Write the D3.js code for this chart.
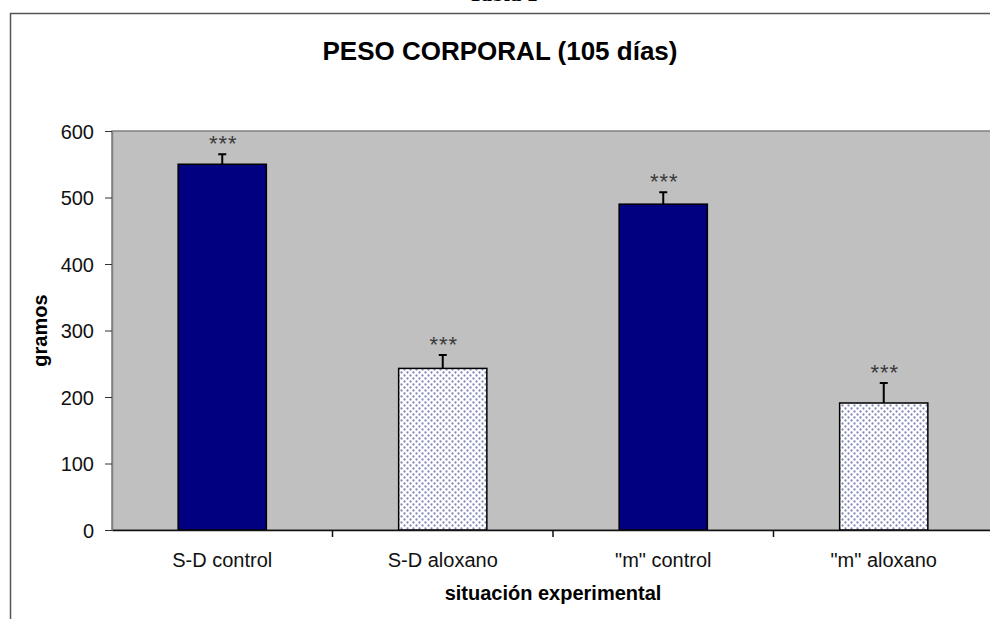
<!DOCTYPE html>
<html>
<head>
<meta charset="utf-8">
<script src="https://cdn.jsdelivr.net/npm/d3@7"></script>
<style>
  body { margin: 0; background: #fff; }
  text { font-family: "Liberation Sans", Arial, sans-serif; }
</style>
</head>
<body>
<div id="chart"></div>
<script>
var categories = ['S-D control', 'S-D aloxano', '"m" control', '"m" aloxano']
var pesos = [550, 243, 490, 191]
var errores = [15, 20, 18, 30]
var patron = ['solid', 'dots', 'solid', 'dots']
var signif = ['***', '***', '***', '***']
var yTicks = [0, 100, 200, 300, 400, 500, 600]

var width = 990,
    height = 619,
    margin = {top: 131, right: -4, bottom: 89, left: 112}

var svg = d3.select("#chart")
  .append("svg")
    .attr("width", width)
    .attr("height", height)

// dotted fill for the alloxan bars
var defs = svg.append("defs")
var pat = defs.append("pattern")
    .attr("id", "dots")
    .attr("patternUnits", "userSpaceOnUse")
    .attr("width", 6)
    .attr("height", 6)
pat.append("rect").attr("width", 6).attr("height", 6).attr("fill", "#ffffff")
pat.append("circle").attr("cx", 1.5).attr("cy", 1.5).attr("r", 1.15).attr("fill", "#8288b8")
pat.append("circle").attr("cx", 4.5).attr("cy", 4.5).attr("r", 1.15).attr("fill", "#8288b8")

// caption cut off at the top edge, as in the scan, and outer frame
svg.append("text")
  .attr("x", 503)
  .attr("y", 1)
  .attr("text-anchor", "middle")
  .style("font-family", "Liberation Serif, serif")
  .style("font-weight", "bold")
  .style("font-size", "22px")
  .text("Tabla 1")

svg.append("rect")
  .attr("x", 10.5)
  .attr("y", 13.5)
  .attr("width", 1000)
  .attr("height", 700)
  .attr("fill", "none")
  .attr("stroke", "#555")
  .attr("stroke-width", 1.5)

svg.append("text")
  .attr("x", 500)
  .attr("y", 60)
  .attr("text-anchor", "middle")
  .style("font-weight", "bold")
  .style("font-size", "26px")
  .text("PESO CORPORAL (105 días)")

var pw = width - margin.left - margin.right,
    ph = height - margin.top - margin.bottom

var g = svg.append("g")
  .attr("transform", "translate(" + margin.left + "," + margin.top + ")")

var x = d3.scaleBand()
  .domain(categories)
  .range([0, pw])
  .paddingInner(0)
  .paddingOuter(0)

var y = d3.scaleLinear()
  .domain([0, 600])
  .range([ph, 0])

g.append("rect")
  .attr("width", pw)
  .attr("height", ph)
  .attr("fill", "#c0c0c0")
  .attr("stroke", "#808080")
  .attr("stroke-width", 1.5)

var barW = x.bandwidth() * 0.4

g.selectAll("myRect")
  .data(categories)
  .enter()
  .append("rect")
    .attr("x", function(d) { return x(d) + x.bandwidth() / 2 - barW / 2 })
    .attr("y", function(d, i) { return y(pesos[i]) })
    .attr("width", barW)
    .attr("height", function(d, i) { return y(0) - y(pesos[i]) })
    .attr("fill", function(d, i) { return patron[i] == 'solid' ? "#000080" : "url(#dots)" })
    .attr("stroke", "#000")
    .attr("stroke-width", 1.5)

// error bars (upper only)
g.selectAll("myErr")
  .data(categories)
  .enter()
  .append("path")
    .attr("d", function(d, i) {
      var cx = x(d) + x.bandwidth() / 2
      return "M" + cx + "," + y(pesos[i]) + "V" + y(pesos[i] + errores[i]) +
             "M" + (cx - 4) + "," + y(pesos[i] + errores[i]) + "H" + (cx + 4)
    })
    .attr("stroke", "#000")
    .attr("stroke-width", 2)
    .attr("fill", "none")

g.selectAll("mySig")
  .data(categories)
  .enter()
  .append("text")
    .attr("x", function(d) { return x(d) + x.bandwidth() / 2 + 1 })
    .attr("y", function(d, i) { return y(pesos[i] + errores[i]) - 3 })
    .attr("text-anchor", "middle")
    .style("font-size", "22px")
    .style("letter-spacing", "1px")
    .attr("fill", "#3a3a3a")
    .text(function(d, i) { return signif[i] })

// axes
var yAxis = g.append("g")
  .call(d3.axisLeft(y).tickValues(yTicks).tickSize(7).tickSizeOuter(0))
yAxis.select(".domain").attr("stroke", "#808080").attr("stroke-width", 1.5)
yAxis.selectAll("line").attr("stroke", "#333")
yAxis.selectAll("text")
  .attr("x", -18)
  .attr("dy", "0.36em")
  .style("font-size", "20px")
  .attr("fill", "#111")

var xAxis = g.append("g")
  .attr("transform", "translate(0," + ph + ")")
  .call(d3.axisBottom(x).tickSize(0).tickSizeOuter(0))
xAxis.select(".domain").attr("stroke", "#111").attr("stroke-width", 1.5)
xAxis.selectAll("text")
  .attr("y", 23)
  .attr("dy", "0.71em")
  .style("font-size", "20px")
  .attr("fill", "#111")

xAxis.selectAll("sepTicks")
  .data(categories.slice(1))
  .enter()
  .append("line")
    .attr("x1", function(d) { return x(d) })
    .attr("x2", function(d) { return x(d) })
    .attr("y1", 0)
    .attr("y2", 7)
    .attr("stroke", "#111")
    .attr("stroke-width", 1.5)

svg.append("text")
  .attr("x", margin.left + pw / 2)
  .attr("y", 600)
  .attr("text-anchor", "middle")
  .style("font-weight", "bold")
  .style("font-size", "20px")
  .text("situación experimental")

svg.append("text")
  .attr("transform", "translate(47," + (margin.top + ph / 2) + ")rotate(-90)")
  .attr("text-anchor", "middle")
  .style("font-weight", "bold")
  .style("font-size", "20px")
  .text("gramos")
</script>
</body>
</html>
